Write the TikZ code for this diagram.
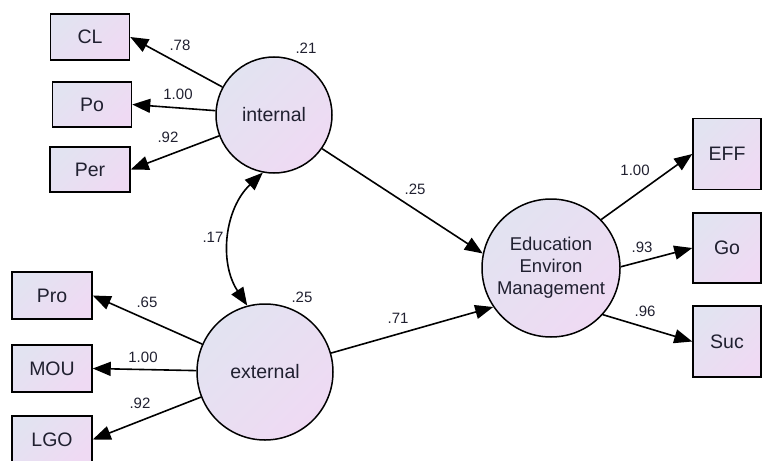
\documentclass[tikz,border=0pt]{standalone}
\usepackage{fontspec}
\setmainfont{Liberation Sans}
\usetikzlibrary{shapes, positioning, arrows.meta}

\definecolor{shadeA}{RGB}{226,227,241}
\definecolor{shadeB}{RGB}{239,218,243}
\definecolor{ink}{RGB}{32,32,48}

\tikzset{
    latent/.style={circle, draw, line width=1.5pt, inner sep=0pt, align=center,
        top color=shadeA, bottom color=shadeB, shading angle=45,
        text=ink, font=\fontsize{19.5}{22}\selectfont},
    obs/.style={rectangle, draw, line width=1.5pt, inner sep=0pt,
        top color=shadeA, bottom color=shadeB, shading angle=45,
        text=ink, font=\fontsize{19.5}{22}\selectfont},
    coef/.style={inner sep=0pt, text=ink, font=\fontsize{15}{17}\selectfont},
    link/.style={line width=1.6pt, ->},
    >={Triangle[length=18pt, width=14pt]}
}

\begin{document}
\begin{tikzpicture}[x=1pt, y=-1pt]
        \useasboundingbox (0, 0) rectangle (762, 460);

        \node[latent, minimum size=116pt] (internal) at (274, 115) {internal};
        \node[latent, minimum size=136pt] (external) at (265, 372) {external};
        \node[latent, minimum size=138pt, font=\fontsize{18.5}{22}\selectfont] (eem) at (551, 268) {Education\\Environ\\Management};

        \node[obs, minimum width=79pt, minimum height=46pt] (cl) at (90, 37) {CL};
        \node[obs, minimum width=79pt, minimum height=45pt] (po) at (92, 104.5) {Po};
        \node[obs, minimum width=80pt, minimum height=45pt] (per) at (90, 169.5) {Per};
        \node[obs, minimum width=80pt, minimum height=47pt] (pro) at (52, 295.5) {Pro};
        \node[obs, minimum width=80pt, minimum height=47pt] (mou) at (52, 368.5) {MOU};
        \node[obs, minimum width=80pt, minimum height=47pt] (lgo) at (52, 439.5) {LGO};
        \node[obs, minimum width=68pt, minimum height=71pt] (eff) at (727, 154) {EFF};
        \node[obs, minimum width=68pt, minimum height=70pt] (go) at (727, 248) {Go};
        \node[obs, minimum width=68pt, minimum height=71pt] (suc) at (727, 341.5) {Suc};

        \node[coef] (r-int) at (306, 48) {.21};
        \node[coef] (r-ext) at (302, 297) {.25};
        \node[coef] (w-cl) at (180, 45) {.78};
        \node[coef] (w-po) at (178, 94) {1.00};
        \node[coef] (w-per) at (168, 137) {.92};
        \node[coef] (w-cov) at (213, 237) {.17};
        \node[coef] (w-pro) at (147, 302) {.65};
        \node[coef] (w-mou) at (143, 357) {1.00};
        \node[coef] (w-lgo) at (140, 403) {.92};
        \node[coef] (w-ie) at (415, 189) {.25};
        \node[coef] (w-ee) at (398, 318) {.71};
        \node[coef] (w-eff) at (635, 170) {1.00};
        \node[coef] (w-go) at (642, 247) {.93};
        \node[coef] (w-suc) at (645, 311) {.96};

        \draw[link] (internal) -- (cl.east);
        \draw[link] (internal) -- (po.east);
        \draw[link] (internal) -- (per.east);
        \draw[link] (external) -- (pro.east);
        \draw[link] (external) -- (mou.east);
        \draw[link] (external) -- (lgo.east);
        \draw[link] (internal.325) -- (eem.168);
        \draw[link] (external.16) -- (eem.214);
        \draw[link] (eem.44) -- (eff.west);
        \draw[link] (eem.1) -- (go.west);
        \draw[link] (eem.318) -- (suc.west);
        \draw[link, <->] (internal.259) to[bend right=40] (external.105);
    \end{tikzpicture}
\end{document}
